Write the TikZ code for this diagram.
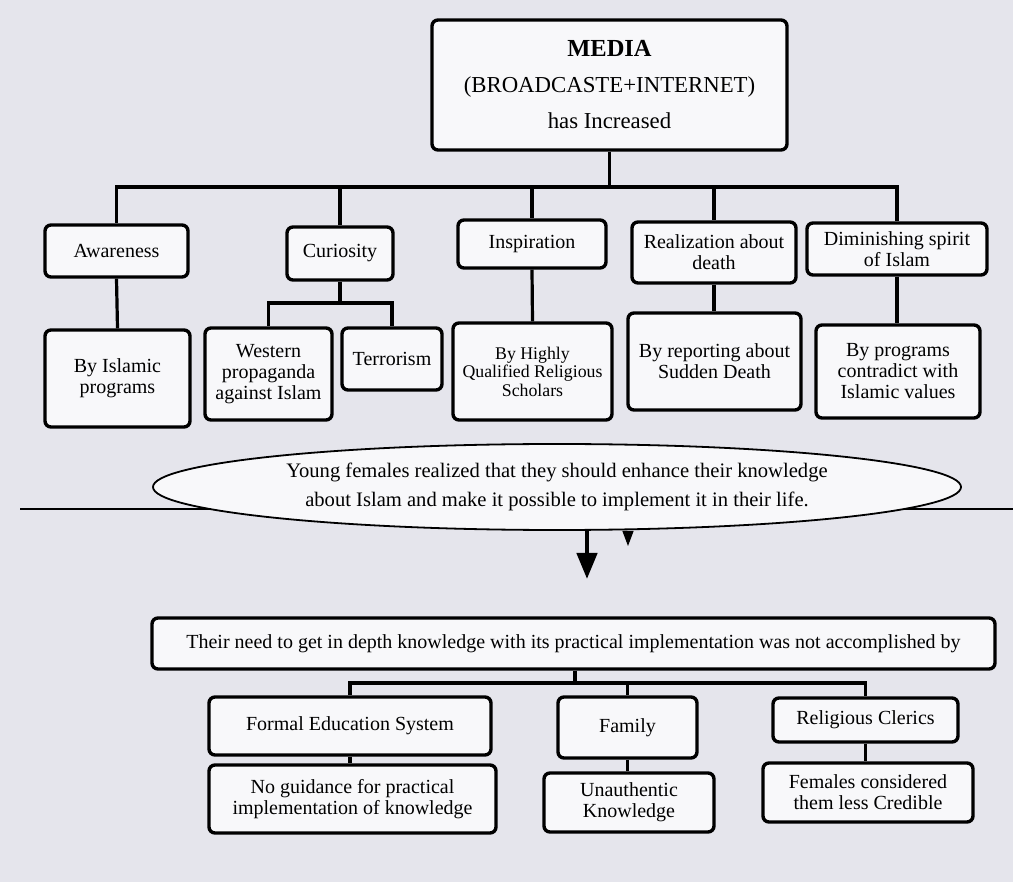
\documentclass[tikz,border=0pt]{standalone}
\usepackage{fontspec}
\setmainfont{Liberation Serif}
\usetikzlibrary{shapes,arrows.meta,positioning}
\definecolor{paper}{RGB}{229,229,236}
\definecolor{boxfill}{RGB}{248,248,250}

\begin{document}
\begin{tikzpicture}[x=1pt,y=-1pt,every node/.style={font=\fontsize{20}{21}\selectfont},
  box/.style={draw, line width=3.4pt, rounded corners=6pt, fill=boxfill, align=center, inner sep=0pt},
  link/.style={line width=3.2pt}]
\fill[paper] (0,0) rectangle (1013,882);
\useasboundingbox (0,0) rectangle (1013,882);
% top part
\node[box, minimum width=355pt, minimum height=130pt, font=\fontsize{22.8}{36}\selectfont] (media) at (609.5,85) {{\fontsize{24.5}{36}\selectfont\bfseries MEDIA}\\(BROADCASTE+INTERNET)\\has Increased};
\node[box, minimum width=143pt, minimum height=52pt] (aware) at (116.5,251) {Awareness};
\node[box, minimum width=106pt, minimum height=53pt] (curio) at (340,253.5) {Curiosity};
\node[box, minimum width=148pt, minimum height=48pt] (inspi) at (532,244) {Inspiration};
\node[box, minimum width=164pt, minimum height=61pt] (realiz) at (714,252.5) {Realization about\\death};
\node[box, minimum width=180pt, minimum height=52pt] (dimin) at (897,249) {Diminishing spirit\\of Islam};
\node[box, minimum width=145pt, minimum height=97pt] (islprog) at (117.5,378.5) {By Islamic\\programs};
\node[box, minimum width=127pt, minimum height=92pt] (western) at (268.5,374) {Western\\propaganda\\against Islam};
\node[box, minimum width=100pt, minimum height=62pt] (terror) at (392,359) {Terrorism};
\node[box, minimum width=159pt, minimum height=97pt, font=\fontsize{17.8}{18.5}\selectfont] (scholars) at (532.5,371.5) {By Highly\\Qualified Religious\\Scholars};
\node[box, minimum width=173pt, minimum height=97pt] (report) at (714.5,361.5) {By reporting about\\Sudden Death};
\node[box, minimum width=164pt, minimum height=93pt] (contra) at (898,371.5) {By programs\\contradict with\\Islamic values};
\coordinate (topbus) at (609.5,187);
\coordinate (curbus) at (340,303);
\draw[link] (media.south) -- (topbus);
\draw[link] (topbus) -| (aware.north);
\draw[link] (topbus) -| (curio.north);
\draw[link] (topbus) -| (inspi.north);
\draw[link] (topbus) -| (realiz.north);
\draw[link] (topbus) -| (dimin.north);
\draw[link] (aware.south) -- (islprog.north);
\draw[link] (curio.south) -- (curbus);
\draw[link] (curbus) -| (western.north);
\draw[link] (curbus) -| (terror.north);
\draw[link] (inspi.south) -- (scholars.north);
\draw[link] (realiz.south) -- (realiz.south |- report.north);
\draw[link] (dimin.south) -- (dimin.south |- contra.north);
% middle
\coordinate (ruleL) at (20,509);
\coordinate (ruleR) at (1013,509);
\draw[line width=1.6pt] (ruleL) -- (ruleR);
\node[draw, ellipse, line width=1.8pt, fill=boxfill, minimum width=808pt, minimum height=86pt, inner sep=0pt, align=center, font=\fontsize{20.6}{29}\selectfont] (young) at (557,487) {Young females realized that they should enhance their knowledge\\about Islam and make it possible to implement it in their life.};
\coordinate (arrtip) at (587,579);
\coordinate (smalltip) at (628,546);
\draw[line width=4.5pt, -{Triangle[width=20pt,length=26pt]}] (young.south -| arrtip) -- (arrtip);
\draw[line width=1pt, -{Triangle[width=11pt,length=15pt]}] (young.south -| smalltip) -- (smalltip);
% bottom part
\node[box, minimum width=843pt, minimum height=51pt] (need) at (573.5,643.5) {Their need to get in depth knowledge with its practical implementation was not accomplished by};
\node[box, minimum width=282pt, minimum height=58pt] (formal) at (350,726) {Formal Education System};
\node[box, minimum width=139pt, minimum height=61pt] (family) at (627.5,727.5) {Family};
\node[box, minimum width=185pt, minimum height=44pt] (clerics) at (865.5,720) {Religious Clerics};
\node[box, minimum width=287pt, minimum height=68pt] (noguide) at (352.5,799) {No guidance for practical\\implementation of knowledge};
\node[box, minimum width=170pt, minimum height=59pt] (unauth) at (629,802.5) {Unauthentic\\Knowledge};
\node[box, minimum width=210pt, minimum height=59pt] (females) at (868,792.5) {Females considered\\them less Credible};
\coordinate (needbus) at (575,683);
\draw[link] (needbus |- need.south) -- (needbus);
\draw[link] (needbus) -| (formal.north);
\draw[link] (needbus) -| (family.north);
\draw[link] (needbus) -| (clerics.north);
\draw[link] (formal.south) -- (formal.south |- noguide.north);
\draw[link] (family.south) -- (family.south |- unauth.north);
\draw[link] (clerics.south) -- (clerics.south |- females.north);
\end{tikzpicture}
\end{document}
